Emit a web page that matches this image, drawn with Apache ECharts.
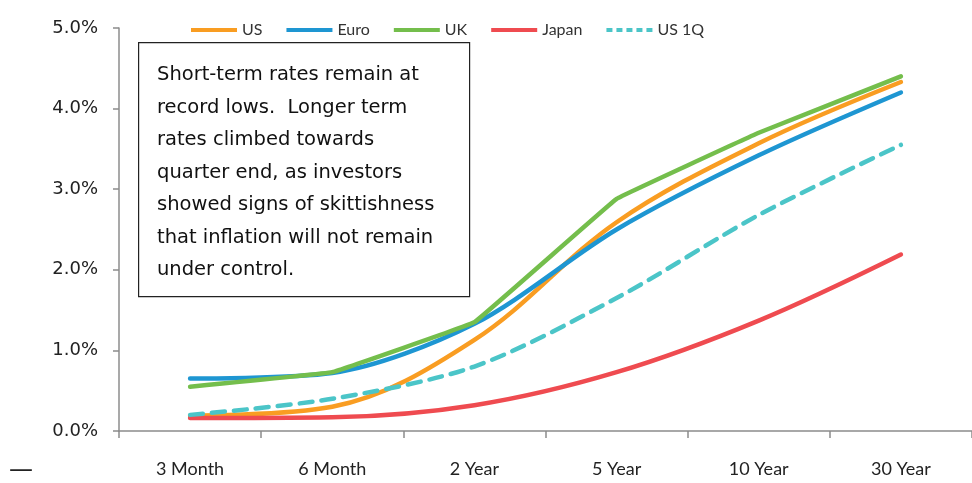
<!DOCTYPE html>
<html><head><meta charset="utf-8">
<script src="https://cdn.jsdelivr.net/npm/echarts@6/dist/echarts.min.js"></script>
<style>html,body{margin:0;padding:0;background:#fff}#c{width:972px;height:483px}</style>
</head><body><div id="c"></div>
<script>
const categories = ['3 Month','6 Month','2 Year','5 Year','10 Year','30 Year'];
const us    = [0.19, 0.30, 1.13, 2.59, 3.57, 4.33];
const euro  = [0.65, 0.72, 1.33, 2.50, 3.42, 4.20];
const uk    = [0.55, 0.73, 1.35, 2.88, 3.70, 4.40];
const japan = [0.16, 0.17, 0.32, 0.73, 1.37, 2.19];
const us1q  = [0.20, 0.40, 0.80, 1.65, 2.68, 3.55];
const yTicks = [0, 1, 2, 3, 4, 5];
const noteLines = ['Short-term rates remain at','record lows.  Longer term','rates climbed towards','quarter end, as investors','showed signs of skittishness','that inflation will not remain','under control.'];

const chart = echarts.init(document.getElementById('c'));
const axisColor = '#8c8c8c';
const solidIcon = 'path://M0,0H46V4H0Z';
const dashIcon = 'path://M0,0H6V4H0Z M10,0H16V4H10Z M20,0H26V4H20Z M30,0H36V4H30Z M40,0H46V4H40Z';
function mk(name, data, color, smooth, dashed) {
  return {name, type:'line', data, smooth, symbol:'none',
    lineStyle:{color, width:4.5, cap:'round', join:'round', type: dashed ? [13,9] : 'solid'},
    itemStyle:{color}};
}
chart.setOption({
  animation:false,
  grid:{left:119, top:28, width:859, height:403, containLabel:false},
  legend:{top:17, left:186, itemWidth:46, itemHeight:4, itemGap:24,
    textStyle:{fontFamily:'Lato', fontSize:16, color:'#333'},
    data:[
      {name:'US', icon:solidIcon}, {name:'Euro', icon:solidIcon}, {name:'UK', icon:solidIcon},
      {name:'Japan', icon:solidIcon}, {name:'US 1Q', icon:dashIcon}
    ]},
  xAxis:{type:'category', data:categories, boundaryGap:true,
    axisLine:{lineStyle:{color:axisColor, width:1.5}},
    axisTick:{show:true, length:7, lineStyle:{color:axisColor, width:1.5}},
    axisLabel:{margin:29, fontFamily:'Lato', fontSize:18, color:'#222'}},
  yAxis:{type:'value', min:yTicks[0], max:yTicks[yTicks.length-1], interval:1,
    splitLine:{show:false},
    axisLine:{show:true, lineStyle:{color:axisColor, width:1.5}},
    axisTick:{show:true, length:6, lineStyle:{color:axisColor, width:1.5}},
    axisLabel:{margin:21, fontFamily:'DejaVu Sans', fontSize:18, color:'#222',
      formatter:v=>v.toFixed(1)+'%'}},
  series:[
    mk('US', us, '#F99D22', 0.35, false),
    mk('Euro', euro, '#1E96D2', 0.3, false),
    mk('UK', uk, '#74BE4C', 0.04, false),
    mk('Japan', japan, '#EF4B50', 0.35, false),
    mk('US 1Q', us1q, '#4BC5C8', 0.3, true)
  ],
  graphic:[
    {type:'rect', left:138, top:42, shape:{width:331, height:254},
      style:{fill:'#fff', stroke:'#222', lineWidth:1.2}, z:100},
    {type:'text', left:157, top:59, z:101,
      style:{text:noteLines.join('\n'), fontFamily:'DejaVu Sans', fontSize:19.5, lineHeight:32.5, fill:'#111'}},
    {type:'text', left:9, top:459, style:{text:'—', fontFamily:'DejaVu Sans', fontSize:24, fill:'#222'}}
  ]
});
</script></body></html>
